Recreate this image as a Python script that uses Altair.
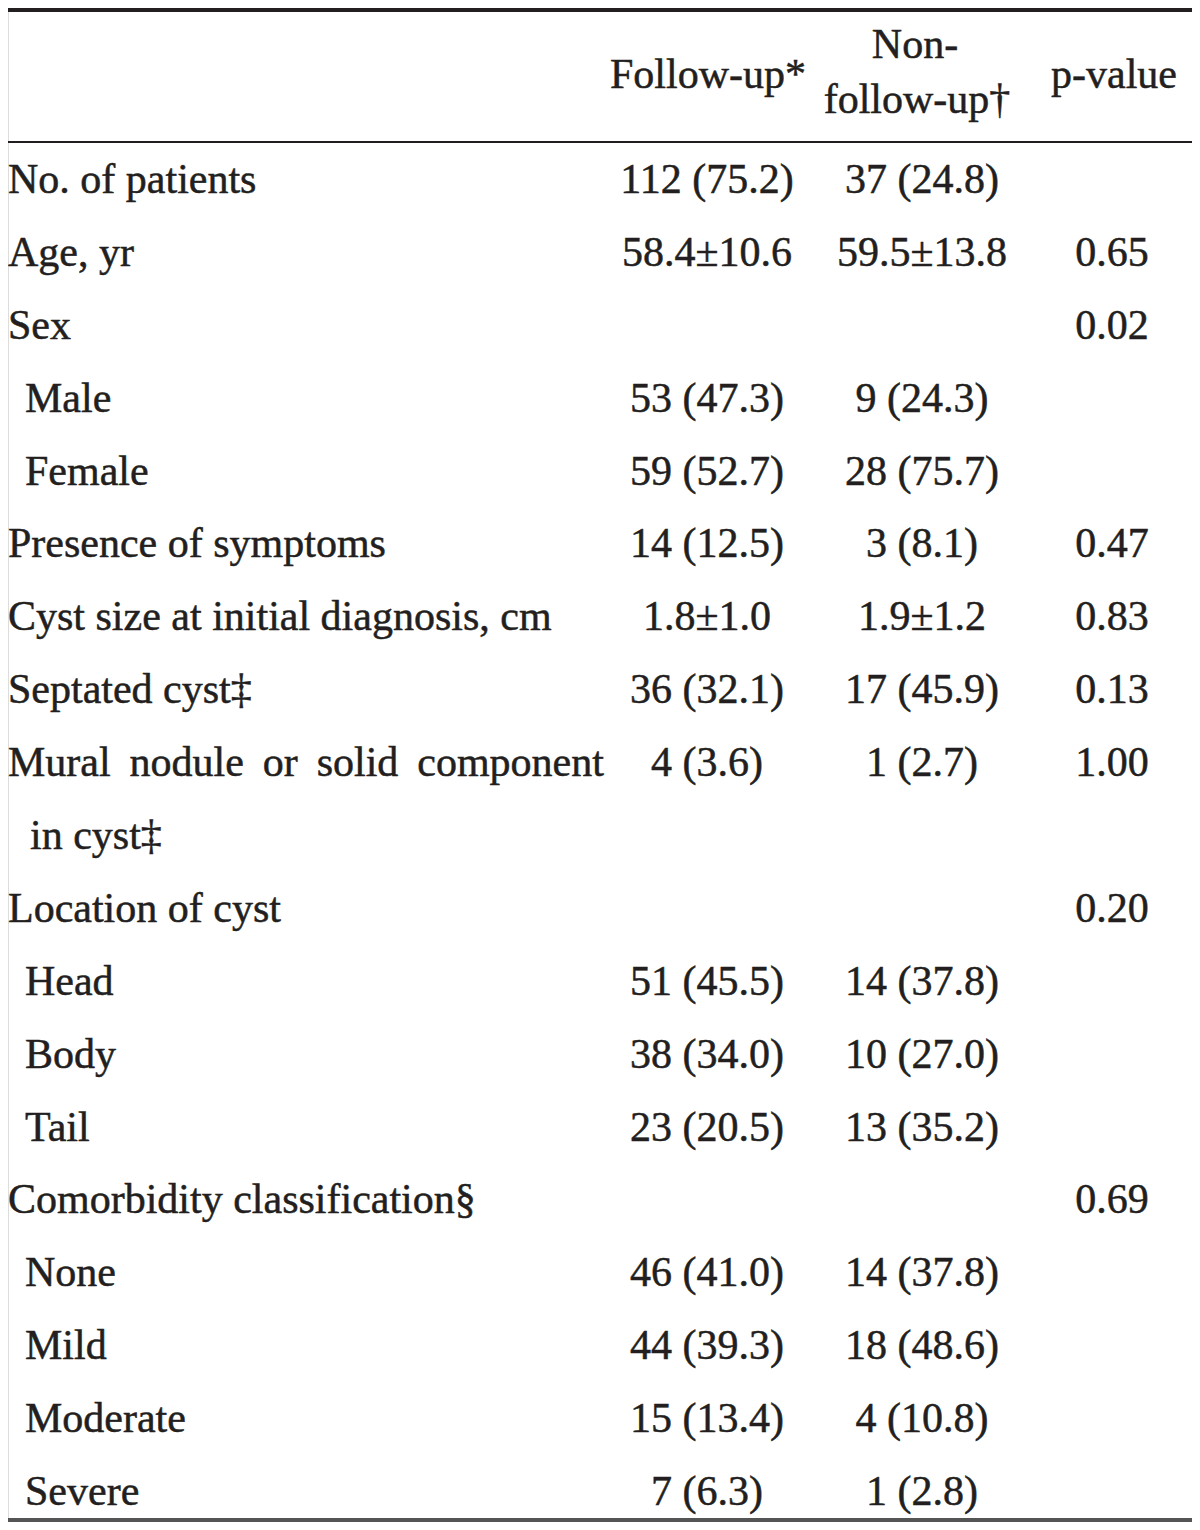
import altair as alt
import pandas as pd

labels = ["No. of patients", "Age, yr", "Sex", "Male", "Female", "Presence of symptoms",
          "Cyst size at initial diagnosis, cm", "Septated cyst\u2021",
          "Mural \u2009nodule \u2009or \u2009solid \u2009component", "in cyst\u2021", "Location of cyst",
          "Head", "Body", "Tail", "Comorbidity classification\u00a7",
          "None", "Mild", "Moderate", "Severe"]
indent = [0, 0, 0, 1, 1, 0, 0, 0, 0, 2, 0, 1, 1, 1, 0, 1, 1, 1, 1]
follow_up = ["112 (75.2)", "58.4\u00b110.6", "", "53 (47.3)", "59 (52.7)", "14 (12.5)",
             "1.8\u00b11.0", "36 (32.1)", "4 (3.6)", "", "", "51 (45.5)", "38 (34.0)",
             "23 (20.5)", "", "46 (41.0)", "44 (39.3)", "15 (13.4)", "7 (6.3)"]
non_follow_up = ["37 (24.8)", "59.5\u00b113.8", "", "9 (24.3)", "28 (75.7)", "3 (8.1)",
                 "1.9\u00b11.2", "17 (45.9)", "1 (2.7)", "", "", "14 (37.8)", "10 (27.0)",
                 "13 (35.2)", "", "14 (37.8)", "18 (48.6)", "4 (10.8)", "1 (2.8)"]
p_values = ["", "0.65", "0.02", "", "", "0.47", "0.83", "0.13", "1.00", "", "0.20",
            "", "", "", "0.69", "", "", "", ""]
header_follow = ["Follow-up*"]
header_non = ["Non-", "follow-up\u2020"]
header_p = ["p-value"]

W, H = 1184, 1514
FONT = "Liberation Serif"
FS = 42
COL = "#231f20"

df = pd.DataFrame({
    "row": list(range(len(labels))),
    "label": labels,
    "indent": indent,
    "follow": follow_up,
    "nonfollow": non_follow_up,
    "p": p_values,
})

yscale = alt.Scale(domain=[0, 18], range=[172, 1484])
base = alt.Chart(df)

def txt(**kw):
    return base.mark_text(font=FONT, fontSize=FS, color=COL, stroke=COL, strokeWidth=0.5,
                          baseline="middle", **kw)

lab0 = txt(align="left").encode(
    x=alt.value(0), y=alt.Y("row:Q", scale=yscale, axis=None), text="label:N"
).transform_filter("datum.indent == 0")
lab1 = txt(align="left").encode(
    x=alt.value(17), y=alt.Y("row:Q", scale=yscale, axis=None), text="label:N"
).transform_filter("datum.indent == 1")
lab2 = txt(align="left").encode(
    x=alt.value(22), y=alt.Y("row:Q", scale=yscale, axis=None), text="label:N"
).transform_filter("datum.indent == 2")
c1 = txt(align="center").encode(
    x=alt.value(699), y=alt.Y("row:Q", scale=yscale, axis=None), text="follow:N")
c2 = txt(align="center").encode(
    x=alt.value(914), y=alt.Y("row:Q", scale=yscale, axis=None), text="nonfollow:N")
c3 = txt(align="center").encode(
    x=alt.value(1104), y=alt.Y("row:Q", scale=yscale, axis=None), text="p:N")

hdr_df = pd.DataFrame({
    "t": header_follow + header_non + header_p,
    "k": ["f", "n1", "n2", "p"],
})
hb = alt.Chart(hdr_df).mark_text(font=FONT, fontSize=FS, color=COL, stroke=COL, strokeWidth=0.5,
                                 baseline="middle", align="center")
h1 = hb.encode(x=alt.value(700), y=alt.value(67), text="t:N").transform_filter("datum.k == 'f'")
h2 = hb.encode(x=alt.value(907), y=alt.value(37), text="t:N").transform_filter("datum.k == 'n1'")
h3 = hb.encode(x=alt.value(909), y=alt.value(92), text="t:N").transform_filter("datum.k == 'n2'")
h4 = hb.encode(x=alt.value(1106), y=alt.value(67), text="t:N").transform_filter("datum.k == 'p'")

top = alt.Chart(df).mark_rule(color=COL, strokeWidth=4).encode(
    x=alt.value(0), x2=alt.value(W), y=alt.value(2))
mid = alt.Chart(df).mark_rule(color=COL, strokeWidth=1.5).encode(
    x=alt.value(0), x2=alt.value(W), y=alt.value(134))
bot = alt.Chart(df).mark_rule(color="#555555", strokeWidth=3).encode(
    x=alt.value(0), x2=alt.value(W), y=alt.value(1512))

chart = alt.layer(top, mid, bot, h1, h2, h3, h4, lab0, lab1, lab2, c1, c2, c3).properties(
    width=W, height=H, padding=0, autosize=alt.AutoSizeParams(type="none")
).configure_view(stroke=None).configure(background="white")

chart.save("out.html", embed_options={"renderer": "svg", "actions": False})
